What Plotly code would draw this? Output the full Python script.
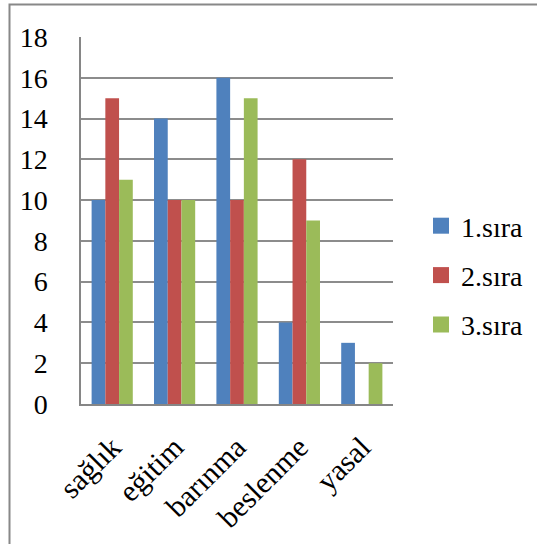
import plotly.graph_objects as go

categories = ["sağlık", "eğitim", "barınma", "beslenme", "yasal"]
series_names = ["1.sıra", "2.sıra", "3.sıra"]
sira1 = [10, 14, 16, 4, 3]
sira2 = [15, 10, 10, 12, 0]
sira3 = [11, 10, 15, 9, 2]
colors = ["#4F81BD", "#C0504D", "#9BBB59"]
y_ticks = [0, 2, 4, 6, 8, 10, 12, 14, 16, 18]

FONT = "Liberation Serif"
FS = 28
W, H = 537, 544
L, R, T, B = 81, 393, 37, 404

fig = go.Figure()
for name, vals, c in zip(series_names, [sira1, sira2, sira3], colors):
    fig.add_trace(go.Bar(x=categories, y=vals, name=name, marker=dict(color=c, line=dict(width=0)),
                         showlegend=False))
for i, (name, c) in enumerate(zip(series_names, colors)):
    fig.add_trace(go.Scatter(x=[None], y=[None], mode="markers", name=name,
                             marker=dict(symbol="square", size=16, color=c),
                             legendgroup=f"g{i}", showlegend=True))

pw, ph = R - L, B - T
fig.add_shape(type="rect", xref="paper", yref="paper",
              x0=(9.5 - L) / pw, x1=(W + 20 - L) / pw,
              y0=(B - (H + 20)) / ph, y1=(B - 4.5) / ph,
              line=dict(color="#888888", width=2), fillcolor="rgba(0,0,0,0)", layer="below")

fig.update_layout(
    width=W, height=H,
    margin=dict(l=L, r=W - R, t=T, b=H - B, autoexpand=False),
    paper_bgcolor="white", plot_bgcolor="white",
    barmode="group", bargap=0.34, bargroupgap=0,
    font=dict(family=FONT, size=FS, color="black"),
    legend=dict(x=(421 - L) / pw, y=(B - 201) / ph, xanchor="left", yanchor="top",
                traceorder="grouped", tracegroupgap=10,
                font=dict(family=FONT, size=FS, color="black"),
                itemsizing="trace", bgcolor="rgba(0,0,0,0)"),
)
fig.update_xaxes(showline=True, linecolor="#868686", linewidth=1.5, showgrid=False,
                 tickangle=-45, ticks="", ticklabelstandoff=12, automargin=False,
                 tickfont=dict(family=FONT, size=30, color="black"))
fig.update_yaxes(range=[0, 18], tickvals=y_ticks, showline=True, linecolor="#868686", linewidth=1.5,
                 showgrid=True, gridcolor="#8c8c8c", gridwidth=1.5, zeroline=False,
                 ticks="", ticklabelstandoff=26, automargin=False,
                 tickfont=dict(family=FONT, size=FS, color="black"))

fig.write_html("out.html")
